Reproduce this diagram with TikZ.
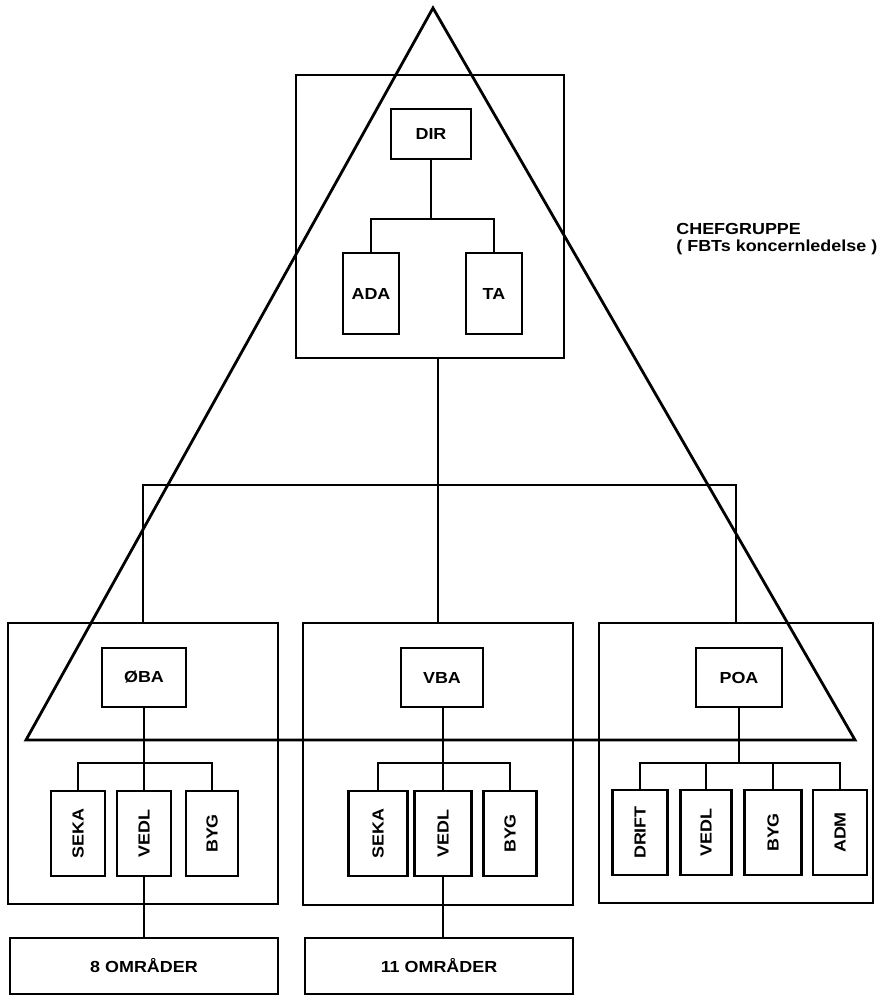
\documentclass[tikz,border=0pt]{standalone}
\usepackage{fontspec}
\setmainfont{Liberation Sans}[FakeStretch=1.12]
\begin{document}
\begin{tikzpicture}[x=1pt,y=-1pt,
  line width=2.8pt, line join=miter,
  frame/.style={draw, inner sep=0pt, rectangle},
  unit/.style={draw, inner sep=0pt, font=\fontsize{16}{17}\selectfont\bfseries},
  sub/.style={draw, inner sep=0pt, minimum width=85pt, rotate=90,
    font=\fontsize{16}{17}\selectfont\bfseries},
  caption/.style={inner sep=0pt, align=left, anchor=north west,
    font=\fontsize{16}{16.5}\selectfont\bfseries}]
\useasboundingbox (0,0) rectangle (877,995);
\clip (0,0) rectangle (877,995);

% group frames
\node[frame, minimum width=268pt, minimum height=283pt] (top) at (430,216.5) {};
\node[frame, minimum width=270pt, minimum height=281pt] (west) at (143,763.5) {};
\node[frame, minimum width=270pt, minimum height=282pt] (mid) at (438,764) {};
\node[frame, minimum width=274pt, minimum height=280pt] (east) at (736,763) {};

% management
\node[unit, minimum width=80pt, minimum height=50pt] (dir) at (431,134) {DIR};
\node[unit, minimum width=56pt, minimum height=81pt] (ada) at (371,293.5) {ADA};
\node[unit, minimum width=56pt, minimum height=81pt] (ta) at (494,293.5) {TA};
\coordinate (dirbus) at (431,219);
\draw (dir.south) -- (dirbus);
\draw (ada.north) |- (dirbus) -| (ta.north);

% main bus
\coordinate (mainbus) at (438,485);
\draw (top.south -| mid.north) -- (mid.north);
\draw (west.north) |- (mainbus) -| (east.north);

% west
\node[unit, minimum width=84pt, minimum height=59pt] (oba) at (144,677.5) {ØBA};
\node[sub, minimum height=54pt] (wseka) at (78,833.5) {SEKA};
\node[sub, minimum height=54pt] (wvedl) at (144,833.5) {VEDL};
\node[sub, minimum height=52pt] (wbyg) at (212,833.5) {BYG};
\coordinate (wbus) at (144,763);
\draw (oba.south) -- (wvedl.east);
\draw (wseka.east) |- (wbus) -| (wbyg.east);

% middle
\node[unit, minimum width=82pt, minimum height=59pt] (vba) at (442,677.5) {VBA};
\node[sub, minimum height=59pt] (mseka) at (378,833.5) {SEKA};
\node[sub, minimum height=57pt] (mvedl) at (443,833.5) {VEDL};
\node[sub, minimum height=53pt] (mbyg) at (510,833.5) {BYG};
\coordinate (mbus) at (443,763);
\draw (vba.south -| mvedl.east) -- (mvedl.east);
\draw (mseka.east) |- (mbus) -| (mbyg.east);

% east
\node[unit, minimum width=86pt, minimum height=59pt] (poa) at (739,677.5) {POA};
\node[sub, minimum height=55pt] (drift) at (640,832.5) {DRIFT};
\node[sub, minimum height=51pt] (evedl) at (706,832.5) {VEDL};
\node[sub, minimum height=57pt] (ebyg) at (773,832.5) {BYG};
\node[sub, minimum height=54pt] (adm) at (840,832.5) {ADM};
\coordinate (ebus) at (739,763);
\draw (poa.south) -- (ebus);
\draw (drift.east) |- (ebus) -| (adm.east);
\draw (evedl.east) -- (evedl.east |- ebus);
\draw (ebyg.east) -- (ebyg.east |- ebus);

% districts
\node[unit, minimum width=268pt, minimum height=56pt] (om8) at (144,966) {8 OMRÅDER};
\node[unit, minimum width=268pt, minimum height=56pt] (om11) at (439,966) {11 OMRÅDER};
\draw (wvedl.west) -- (wvedl.west |- om8.north);
\draw (mvedl.west) -- (mvedl.west |- om11.north);

% executive group
\node[caption] (chef) at (675,222) {CHEFGRUPPE\\( FBTs koncernledelse )};
\coordinate (apex) at (433,8);
\coordinate (baseL) at (26,740);
\coordinate (baseR) at (855,740);
\draw (baseL) -- (apex) -- (baseR) -- cycle;
\end{tikzpicture}
\end{document}
